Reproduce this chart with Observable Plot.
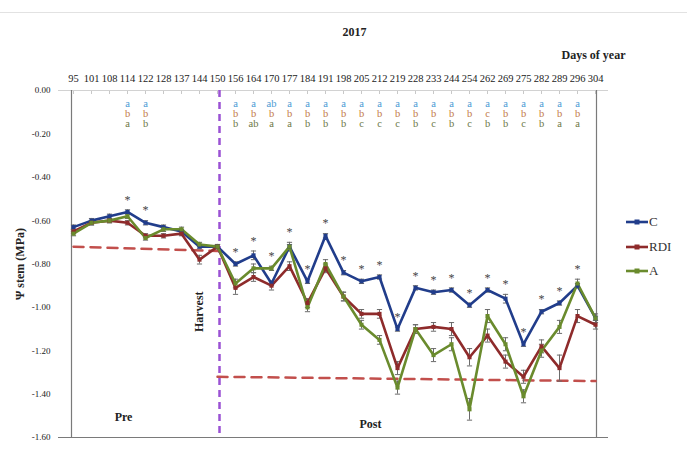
<!DOCTYPE html>
<html><head><meta charset="utf-8">
<script src="https://cdn.jsdelivr.net/npm/d3@7"></script>
<script src="https://cdn.jsdelivr.net/npm/@observablehq/plot@0.6"></script>
<style>
body{margin:0;background:#fff;}
#wrap{position:relative;width:687px;height:458px;font-family:"Liberation Serif","DejaVu Serif",serif;overflow:hidden;}
#topline{position:absolute;left:0;top:12px;width:687px;height:0;border-top:1px solid #e2e2e2;}
.lg{position:absolute;left:626px;height:16px;display:flex;align-items:center;font-size:13px;color:#333;}
.lg svg{margin-right:1px;}
</style></head><body><div id="wrap"><div id="topline"></div></div>
<script>
const days = [95,101,108,114,122,128,137,144,150,156,164,170,177,184,191,198,205,212,219,228,233,244,254,262,269,275,282,289,296,304];
const seriesNames = ["C","RDI","A"];
const valuesC   = [-0.63,-0.60,-0.58,-0.56,-0.61,-0.63,-0.65,-0.72,-0.72,-0.80,-0.76,-0.89,-0.72,-0.88,-0.67,-0.84,-0.88,-0.86,-1.10,-0.91,-0.93,-0.92,-0.99,-0.92,-0.96,-1.17,-1.02,-0.98,-0.90,-1.05];
const valuesRDI = [-0.65,-0.61,-0.60,-0.61,-0.67,-0.67,-0.66,-0.78,-0.72,-0.91,-0.86,-0.90,-0.81,-0.98,-0.82,-0.95,-1.03,-1.03,-1.28,-1.10,-1.09,-1.10,-1.23,-1.13,-1.25,-1.32,-1.18,-1.28,-1.04,-1.08];
const valuesA   = [-0.66,-0.61,-0.60,-0.58,-0.68,-0.64,-0.64,-0.71,-0.72,-0.89,-0.82,-0.82,-0.72,-1.00,-0.80,-0.95,-1.08,-1.15,-1.37,-1.10,-1.22,-1.17,-1.47,-1.04,-1.17,-1.41,-1.20,-1.09,-0.89,-1.05];
const errC   = [0.01,0.01,0.01,0.01,0.01,0.01,0.01,0.01,0.01,0.01,0.02,0.01,0.01,0.01,0.01,0.01,0.01,0.01,0.01,0.01,0.01,0.01,0.01,0.01,0.02,0.01,0.01,0.01,0.01,0.01];
const errRDI = [0.01,0.01,0.01,0.01,0.01,0.01,0.01,0.02,0.01,0.03,0.02,0.02,0.02,0.02,0.02,0.02,0.02,0.02,0.03,0.02,0.02,0.03,0.04,0.03,0.03,0.03,0.03,0.06,0.03,0.02];
const errA   = [0.01,0.01,0.01,0.01,0.01,0.01,0.01,0.01,0.01,0.02,0.02,0.01,0.02,0.02,0.02,0.02,0.02,0.02,0.03,0.02,0.03,0.03,0.05,0.03,0.03,0.03,0.03,0.03,0.02,0.02];
const lettersC   = ["","","","a","a","","","","","a","a","ab","a","a","a","a","a","a","a","a","a","a","a","a","a","a","a","a","a",""];
const lettersRDI = ["","","","b","b","","","","","b","b","b","b","b","b","b","b","b","b","b","b","b","b","c","b","b","b","b","b",""];
const lettersA   = ["","","","a","b","","","","","b","ab","a","a","b","b","b","c","c","c","b","c","b","c","b","b","c","b","a","a",""];
const starDays = [114,122,156,164,170,177,184,191,198,205,212,219,228,233,244,254,262,269,275,282,289,296];
const preLimitDays = [95,150], preLimitValues = [-0.72,-0.74];
const postLimitDays = [150,304], postLimitValues = [-1.32,-1.34];
const harvestDay = 150;
const yTicks = [0,-0.2,-0.4,-0.6,-0.8,-1.0,-1.2,-1.4,-1.6];

const colors = ["#213d8b","#8e2b2b","#6a8b2d"];
const letterColors = ["#4b9bd4","#c27a46","#6e7846"];

const valueSets = [valuesC, valuesRDI, valuesA];
const errSets = [errC, errRDI, errA];
const letterSets = [lettersC, lettersRDI, lettersA];
const rows = [];
seriesNames.forEach((s, k) => days.forEach((d, i) => rows.push({day: d, series: s, value: valueSets[k][i], err: errSets[k][i]})));
const letterRows = [];
seriesNames.forEach((s, k) => days.forEach((d, i) => { if (letterSets[k][i]) letterRows.push({day: d, series: s, k, letter: letterSets[k][i]}); }));
const stars = starDays.map(d => { const i = days.indexOf(d); return {day: d, top: Math.max(valuesC[i] + errC[i], valuesRDI[i] + errRDI[i], valuesA[i] + errA[i])}; });
const preLine = preLimitDays.map((d, i) => ({day: d, value: preLimitValues[i]}));
const postLine = postLimitDays.map((d, i) => ({day: d, value: postLimitValues[i]}));

const capSymbol = {draw(ctx, size) { ctx.moveTo(-2.6, 0); ctx.lineTo(2.6, 0); }};

const serif = "Liberation Serif, DejaVu Serif, serif";
const chart = Plot.plot({
  width: 687, height: 458,
  marginTop: 90, marginBottom: 21, marginLeft: 58, marginRight: 79,
  style: {fontFamily: serif, color: "#222", background: "transparent", overflow: "visible"},
  x: {type: "point", domain: days, padding: 0, insetLeft: 2, insetRight: 1},
  y: {domain: [-1.6, 0]},
  color: {domain: seriesNames, range: colors},
  marks: [
    Plot.ruleY([0], {stroke: "#d2d2d2"}),
    Plot.axisX({anchor: "top", tickSize: -3, tickPadding: 12, fontSize: 10.5, label: null, stroke: "#c8c8c8"}),
    Plot.axisY({ticks: yTicks, tickFormat: d => d.toFixed(2), tickSize: 0, tickPadding: 8, fontSize: 9, label: null}),
    Plot.text(["Ψ stem (MPa)"], {frameAnchor: "left", rotate: -90, dx: -38, fontWeight: "bold", fontSize: 12, lineAnchor: "middle", textAnchor: "middle"}),
    Plot.text(["2017"], {frameAnchor: "top", dx: 21, dy: -58, fontWeight: "bold", fontSize: 12, lineAnchor: "middle", textAnchor: "middle"}),
    Plot.text(["Days of year"], {frameAnchor: "top-right", dx: 17, dy: -35, fontWeight: "bold", fontSize: 12, lineAnchor: "middle", textAnchor: "end"}),
    Plot.ruleY([-1.6], {stroke: "#7a7a7a", strokeWidth: 1.2}),
    Plot.ruleX([days[0]], {dx: -2, stroke: "#7a7a7a", strokeWidth: 1.2}),
    Plot.ruleX([days[days.length - 1]], {dx: 1, stroke: "#7a7a7a", strokeWidth: 1.2}),
    Plot.line(preLine, {x: "day", y: "value", stroke: "#c24f4c", strokeWidth: 2.5, strokeDasharray: "10,7"}),
    Plot.line(postLine, {x: "day", y: "value", stroke: "#c24f4c", strokeWidth: 2.5, strokeDasharray: "10,7"}),
    Plot.ruleX([harvestDay], {dx: 2, stroke: "#9a52d4", strokeWidth: 2.5, strokeDasharray: "7,5"}),
    Plot.text(["Harvest"], {x: () => harvestDay, y: () => -1.02, rotate: -90, dx: -18, fontWeight: "bold", fontSize: 12, lineAnchor: "middle", textAnchor: "middle"}),
    Plot.text(["Pre"], {x: () => 114, y: () => -1.508, dx: -4, fontWeight: "bold", fontSize: 12, lineAnchor: "middle", textAnchor: "middle"}),
    Plot.text(["Post"], {x: () => 205, y: () => -1.54, dx: 9, fontWeight: "bold", fontSize: 12, lineAnchor: "middle", textAnchor: "middle"}),
    Plot.ruleX(rows, {x: "day", y1: d => d.value - d.err, y2: d => d.value + d.err, stroke: "#6b6b6b", strokeWidth: 1}),
    Plot.dot(rows, {x: "day", y: d => d.value + d.err, symbol: capSymbol, stroke: "#6b6b6b", strokeWidth: 1, fill: "none"}),
    Plot.dot(rows, {x: "day", y: d => d.value - d.err, symbol: capSymbol, stroke: "#6b6b6b", strokeWidth: 1, fill: "none"}),
    Plot.line(rows, {x: "day", y: "value", z: "series", stroke: "series", strokeWidth: 2.6}),
    Plot.dot(rows, {x: "day", y: "value", fill: "series", symbol: "square", r: 2.3}),
    Plot.text(stars, {x: "day", y: d => d.top + 0.06, text: () => "*", fontSize: 12, fill: "#444", lineAnchor: "middle", dy: 3}),
    ...seriesNames.map((s, k) => Plot.text(letterRows.filter(r => r.k === k), {x: "day", text: "letter", frameAnchor: "top", dy: 13 + k * 10, fill: letterColors[k], fontSize: 10.5, lineAnchor: "middle"}))
  ]
});
const wrap = document.getElementById("wrap");
wrap.appendChild(chart);
chart.style.position = "absolute"; chart.style.left = "0"; chart.style.top = "0";
seriesNames.forEach((s, k) => {
  const div = document.createElement("div");
  div.className = "lg";
  div.style.top = (214 + k * 24.5) + "px";
  div.innerHTML = `<svg width="22" height="10"><line x1="0" y1="5" x2="22" y2="5" stroke="${colors[k]}" stroke-width="2.6"/><rect x="8.5" y="2.5" width="5" height="5" fill="${colors[k]}"/></svg><span>${s}</span>`;
  wrap.appendChild(div);
});
</script></body></html>
